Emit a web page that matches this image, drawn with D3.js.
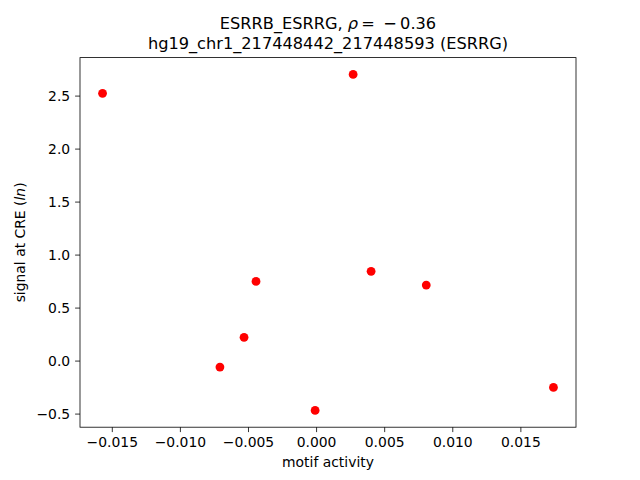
<!DOCTYPE html>
<html>
<head>
  <meta charset="utf-8">
  <script src="https://d3js.org/d3.v7.min.js"></script>
  <style>
    body { margin: 0; background: #fff; }
    text { font-family: "DejaVu Sans", sans-serif; }
  </style>
</head>
<body>
  <div id="chart"></div>
  <script>

  var motifActivity = [-0.01568, 0.00272, -0.00441, -0.00529, -0.00706, -0.00007, 0.00404, 0.00809, 0.01743];
  var creSignal = [2.521, 2.700, 0.747, 0.219, -0.061, -0.470, 0.842, 0.712, -0.253];
  var xTicks = [-0.015, -0.010, -0.005, 0.000, 0.005, 0.010, 0.015];
  var yTicks = [-0.5, 0.0, 0.5, 1.0, 1.5, 2.0, 2.5];

  var width = 640,
      height = 480,
      margin = {top: 57.6, right: 64, bottom: 52.8, left: 80};

  var svg = d3.select("#chart").append("svg")
    .attr("width", width)
    .attr("height", height);

  // matplotlib style 5% padding
  function padded(ext) {
    var d = (ext[1] - ext[0]) * 0.05;
    return [ext[0] - d, ext[1] + d];
  }

  var x = d3.scaleLinear()
    .domain(padded(d3.extent(motifActivity)))
    .range([margin.left, width - margin.right]);

  var y = d3.scaleLinear()
    .domain(padded(d3.extent(creSignal)))
    .range([height - margin.bottom, margin.top]);

  var minus = function(s) { return s.replace("-", "\u2212"); };

  var xAxis = svg.append("g")
    .attr("transform", "translate(0," + (height - margin.bottom) + ")")
    .call(d3.axisBottom(x).tickValues(xTicks)
      .tickFormat(function(d) { return minus(d3.format(".3f")(d)); })
      .tickSizeOuter(0).tickSize(4.9).tickPadding(4.9));

  var yAxis = svg.append("g")
    .attr("transform", "translate(" + margin.left + ",0)")
    .call(d3.axisLeft(y).tickValues(yTicks)
      .tickFormat(function(d) { return minus(d3.format(".1f")(d)); })
      .tickSizeOuter(0).tickSize(4.9).tickPadding(4.9));

  [xAxis, yAxis].forEach(function(a) {
    a.select(".domain").remove();
    a.selectAll("text").style("font-size", "13.9px").attr("fill", "#000");
    a.selectAll("line").attr("stroke", "#000").attr("stroke-width", 0.8);
  });

  // frame
  svg.append("rect")
    .attr("x", margin.left)
    .attr("y", margin.top)
    .attr("width", width - margin.left - margin.right)
    .attr("height", height - margin.top - margin.bottom)
    .attr("fill", "none")
    .attr("stroke", "#000")
    .attr("stroke-width", 0.8);

  var pts = motifActivity.map(function(v, i) { return {x: v, y: creSignal[i]}; });

  svg.selectAll("circle")
    .data(pts)
    .enter()
    .append("circle")
    .attr("cx", function(d) { return x(d.x); })
    .attr("cy", function(d) { return y(d.y); })
    .attr("r", 4.4)
    .attr("fill", "red");

  var cx = (margin.left + width - margin.right) / 2;

  var t1 = svg.append("text")
    .attr("x", cx).attr("y", 29)
    .attr("text-anchor", "middle")
    .style("font-size", "16.2px");
  t1.append("tspan").text("ESRRB_ESRRG, ");
  t1.append("tspan").style("font-style", "italic").text("\u03c1");
  t1.append("tspan").text("\u2009=\u2009 \u2212\u20090.36");

  svg.append("text")
    .attr("x", cx).attr("y", 49)
    .attr("text-anchor", "middle")
    .style("font-size", "16.2px")
    .text("hg19_chr1_217448442_217448593 (ESRRG)");

  svg.append("text")
    .attr("x", cx).attr("y", 467)
    .attr("text-anchor", "middle")
    .style("font-size", "13.9px")
    .text("motif activity");

  var yl = svg.append("text")
    .attr("transform", "translate(25," + ((margin.top + height - margin.bottom) / 2) + ") rotate(-90)")
    .attr("text-anchor", "middle")
    .style("font-size", "13.9px");
  yl.append("tspan").text("signal at CRE (");
  yl.append("tspan").style("font-style", "italic").text("ln");
  yl.append("tspan").text(")");

  </script>
</body>
</html>
